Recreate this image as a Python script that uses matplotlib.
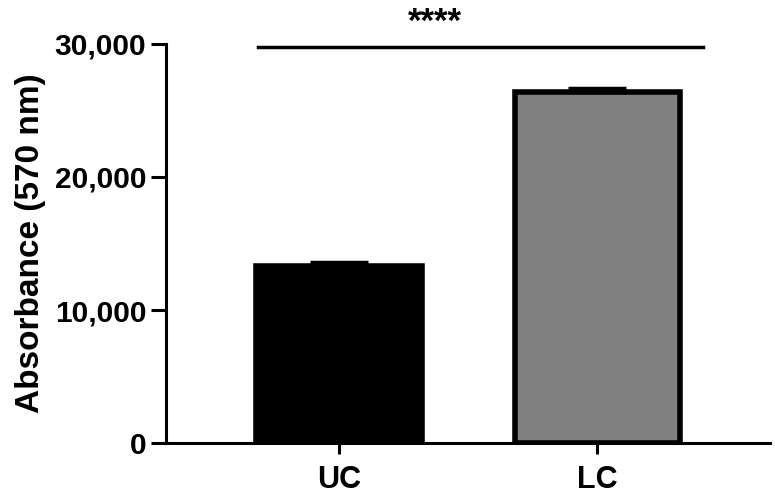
import matplotlib.pyplot as plt
from matplotlib.ticker import FuncFormatter

groups = ["UC", "LC"]
means = [13300, 26400]
errors = [300, 250]
colors = ["#000000", "#808080"]
sig_label = "****"
sig_y = 29800

plt.rcParams['font.family'] = 'Liberation Sans'
plt.rcParams['font.weight'] = 'bold'

fig = plt.figure(figsize=(7.75, 4.99), dpi=100)
ax = fig.add_axes([0.214, 0.112, 0.78, 0.8])

x = range(len(groups))
ax.bar(x, means, width=0.64, color=colors, edgecolor='black', linewidth=4, zorder=2)
ax.errorbar(x, means, yerr=[[0, 0], errors], fmt='none', ecolor='black',
            elinewidth=2.5, capsize=21, capthick=2.5, zorder=3)

# significance bar
ax.plot([-0.315, 1.41], [sig_y, sig_y], color='black', lw=2.5, clip_on=False)
ax.text(0.37, sig_y + 600, sig_label, ha='center', va='bottom', fontsize=25,
        fontweight='bold')

ax.set_xlim(-0.67, 1.67)
ax.set_ylim(0, 30000)
ax.set_yticks([0, 10000, 20000, 30000])
ax.yaxis.set_major_formatter(FuncFormatter(lambda v, p: f"{int(v):,}"))
ax.set_xticks(list(x))
ax.set_xticklabels(groups)
ax.set_ylabel("Absorbance (570 nm)", fontsize=24, fontweight='bold', labelpad=6)

for s in ['top', 'right']:
    ax.spines[s].set_visible(False)
for s in ['left', 'bottom']:
    ax.spines[s].set_linewidth(2.2)
ax.tick_params(axis='y', length=11, width=2.2, labelsize=21.5, pad=3)
ax.tick_params(axis='x', length=8, width=2.2, labelsize=22, pad=8)

fig.savefig("out.png", dpi=100, facecolor='white')
